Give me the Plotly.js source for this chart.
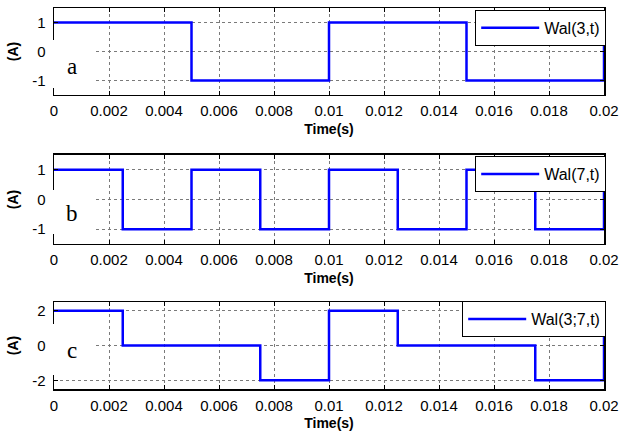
<!DOCTYPE html>
<html>
<head>
<meta charset="utf-8">
<script src="https://cdn.plot.ly/plotly-3.0.1.min.js"></script>
<style>html,body{margin:0;padding:0;background:#fff;}#chart{width:621px;height:433px;}</style>
</head>
<body>
<div id="chart"></div>
<script>
// ---- data ----
const time = [0, 0.0025, 0.005, 0.0075, 0.01, 0.0125, 0.015, 0.0175, 0.02];
const wal3 = [1, 1, -1, -1, 1, 1, -1, -1, 1];
const wal7 = [1, -1, 1, -1, 1, -1, 1, -1, 1];
const wal37 = [2, 0, 0, -2, 2, 0, 0, -2, 2];
const seriesNames = ['Wal(3,t)', 'Wal(7,t)', 'Wal(3;7,t)'];
const panelLetters = ['a', 'b', 'c'];
const xTickVals = [0, 0.002, 0.004, 0.006, 0.008, 0.01, 0.012, 0.014, 0.016, 0.018, 0.02];
const xTickText = ['0', '0.002', '0.004', '0.006', '0.008', '0.01', '0.012', '0.014', '0.016', '0.018', '0.02'];
const yTickVals12 = [-1, 0, 1];
const yTickText12 = ['-1', '0', '1'];
const yTickVals3 = [-2, 0, 2];
const yTickText3 = ['-2', '0', '2'];

const BLUE = 'rgb(0,0,255)';
const tickFont = {family: 'Liberation Sans, Arial, sans-serif', size: 15, color: '#000'};
const titleFont = {family: 'Liberation Sans, Arial, sans-serif', size: 14, color: '#000', weight: 'bold'};

const ys = [wal3, wal7, wal37];
const traces = ys.map((y, i) => ({
  x: time, y: y, type: 'scatter', mode: 'lines',
  line: {shape: 'hv', color: BLUE, width: 2.5},
  name: seriesNames[i],
  xaxis: i === 0 ? 'x' : 'x' + (i + 1),
  yaxis: i === 0 ? 'y' : 'y' + (i + 1),
  legend: i === 0 ? 'legend' : 'legend' + (i + 1),
  showlegend: true
}));

const domains = [[0.7717, 1], [0.3806, 0.6142], [0, 0.2283]];
const yRanges = [[-1.5, 1.5], [-1.5, 1.5], [-2.5, 2.5]];
const yTV = [yTickVals12, yTickVals12, yTickVals3];
const yTT = [yTickText12, yTickText12, yTickText3];

function xAxis(i) {
  return {
    domain: [0, 1], range: [0, 0.02], anchor: i === 0 ? 'y' : 'y' + (i + 1),
    tickmode: 'array', tickvals: xTickVals, ticktext: xTickText,
    ticks: 'inside', ticklen: 4, tickwidth: 1, tickcolor: '#000',
    showline: true, linecolor: '#000', linewidth: 1.5, mirror: 'ticks',
    showgrid: true, gridcolor: '#7a7a7a', griddash: 'dot', gridwidth: 1,
    zeroline: false, tickfont: tickFont, ticklabelstandoff: 2,
    title: {text: 'Time(s)', font: titleFont, standoff: 5}
  };
}
function yAxis(i) {
  return {
    domain: domains[i], range: yRanges[i], anchor: i === 0 ? 'x' : 'x' + (i + 1),
    tickmode: 'array', tickvals: yTV[i], ticktext: yTT[i],
    ticks: 'inside', ticklen: 4, tickwidth: 1, tickcolor: '#000',
    showline: true, linecolor: '#000', linewidth: 1.5, mirror: 'ticks',
    showgrid: true, gridcolor: '#7a7a7a', griddash: 'dot', gridwidth: 1,
    zeroline: false, tickfont: tickFont, ticklabelstandoff: 4,
    title: {text: '(A)', font: titleFont, standoff: 10}
  };
}

const legendTops = [0.995, 0.6115, 0.231];
function legendCfg(i) {
  return {
    x: 1.004, xanchor: 'right', y: legendTops[i], yanchor: 'top',
    bgcolor: '#fff', bordercolor: '#000', borderwidth: 1,
    font: {family: 'Liberation Sans, Arial, sans-serif', size: 16, color: '#000'},
    itemwidth: 58
  };
}

// white patches behind panel letters (in axis-domain units)
const patchY = [[0.08, 0.632], [0.112, 0.607], [0.161, 0.747]];
const letterY = [0.325, 0.345, 0.44];
const shapes = [], annotations = [];
for (let i = 0; i < 3; i++) {
  const sx = i === 0 ? 'x' : 'x' + (i + 1);
  const sy = i === 0 ? 'y' : 'y' + (i + 1);
  shapes.push({type: 'rect', layer: 'above', xref: sx + ' domain', yref: sy + ' domain',
    x0: -0.006, x1: 0.0727, y0: patchY[i][0], y1: patchY[i][1],
    fillcolor: '#fff', line: {width: 0}});
  annotations.push({xref: sx + ' domain', yref: sy + ' domain', x: 0.032, y: letterY[i],
    xanchor: 'center', yanchor: 'middle', showarrow: false, text: panelLetters[i],
    font: {family: 'Liberation Serif, Times New Roman, serif', size: 23, color: '#000'}});
}

const layout = {
  width: 621, height: 433,
  margin: {l: 54, r: 17, t: 8, b: 44},
  paper_bgcolor: '#fff', plot_bgcolor: '#fff',
  xaxis: xAxis(0), xaxis2: xAxis(1), xaxis3: xAxis(2),
  yaxis: yAxis(0), yaxis2: yAxis(1), yaxis3: yAxis(2),
  legend: legendCfg(0), legend2: legendCfg(1), legend3: legendCfg(2),
  shapes: shapes, annotations: annotations
};

Plotly.newPlot('chart', traces, layout, {staticPlot: true, displayModeBar: false});
</script>
</body>
</html>
